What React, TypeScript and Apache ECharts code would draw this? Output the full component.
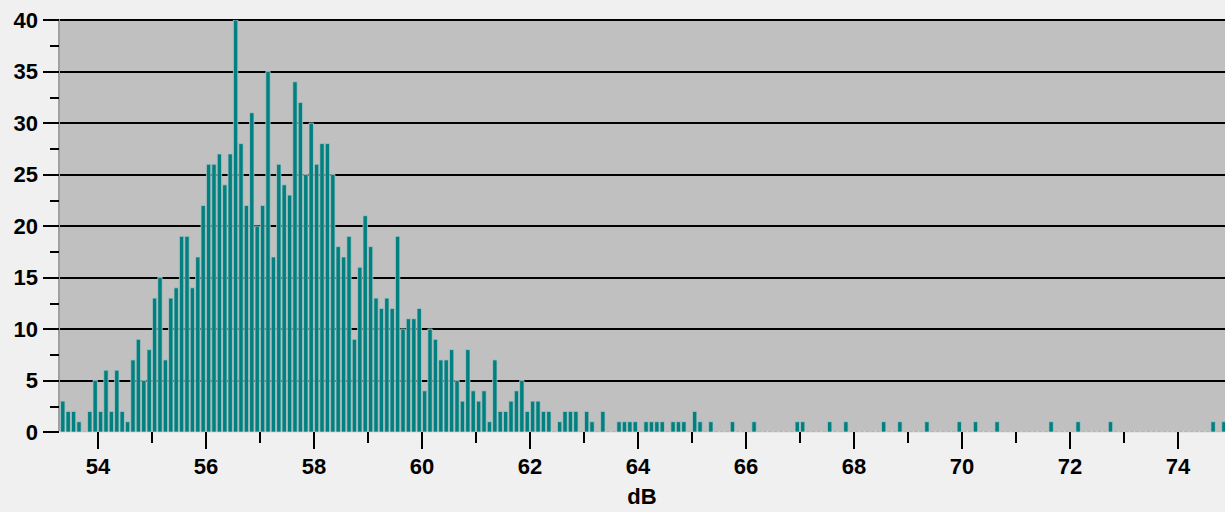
import React, { useEffect, useRef } from "react";
import * as echarts from "echarts";

// Histogram of sound levels, 0.1 dB bins starting at 53.3 dB
const BIN_START = 53.3;
const BIN_WIDTH = 0.1;
const counts: number[] = [
  3, 2, 2, 1, 0, 2, 5, 2, 6, 2, 6, 2, 1, 7, 9, 5, 8, 13, 15, 7,
  13, 14, 19, 19, 14, 17, 22, 26, 26, 27, 24, 27, 40, 28, 22, 31, 20, 22, 35, 17,
  26, 24, 23, 34, 32, 25, 30, 26, 28, 28, 25, 18, 17, 19, 9, 16, 21, 18, 13, 12,
  13, 12, 19, 10, 11, 11, 12, 4, 10, 9, 7, 7, 8, 5, 3, 8, 4, 3, 4, 1,
  7, 2, 2, 3, 4, 5, 2, 3, 3, 2, 2, 0, 1, 2, 2, 2, 0, 2, 1, 0,
  2, 0, 0, 1, 1, 1, 1, 0, 1, 1, 1, 1, 0, 1, 1, 1, 0, 2, 1, 0,
  1, 0, 0, 0, 1, 0, 0, 0, 1, 0, 0, 0, 0, 0, 0, 0, 1, 1, 0, 0,
  0, 0, 1, 0, 0, 1, 0, 0, 0, 0, 0, 0, 1, 0, 0, 1, 0, 0, 0, 0,
  1, 0, 0, 0, 0, 0, 1, 0, 0, 1, 0, 0, 0, 1, 0, 0, 0, 0, 0, 0,
  0, 0, 0, 1, 0, 0, 0, 0, 1, 0, 0, 0, 0, 0, 1, 0, 0, 0, 0, 0,
  0, 0, 0, 0, 0, 0, 0, 0, 0, 0, 0, 0, 0, 1, 0, 1,
];
const xMajorTicks: number[] = [54, 56, 58, 60, 62, 64, 66, 68, 70, 72, 74];
const xMinorTicks: number[] = [55, 57, 59, 61, 63, 65, 67, 69, 71, 73];
const X_MIN = 53.28;
const X_MAX = 74.87;

const FONT = "'Liberation Sans', Arial, sans-serif";
const FONT_SIZE = 22;

export default function App() {
  const ref = useRef<HTMLDivElement>(null);
  useEffect(() => {
    if (!ref.current) return;
    const chart = echarts.init(ref.current, null, { renderer: "svg" });
    const data = counts.map((c, i) => {
      const lo = +(BIN_START + i * BIN_WIDTH).toFixed(2);
      const hi = +(lo + BIN_WIDTH).toFixed(2);
      return [lo, hi, c];
    });
    chart.setOption({
      animation: false,
      backgroundColor: "#f0f0f0",
      grid: {
        left: 59,
        right: 0,
        top: 20,
        bottom: 78,
        show: true,
        backgroundColor: "#c0c0c0",
        borderWidth: 0,
      },
      xAxis: [
        {
          type: "value",
          min: X_MIN,
          max: X_MAX,
          name: "dB",
          nameLocation: "middle",
          nameGap: 53,
          nameTextStyle: { fontSize: FONT_SIZE, fontWeight: "bold", color: "#000", fontFamily: FONT },
          axisLine: { show: true, lineStyle: { color: "#e4e4e4", width: 2 } },
          axisTick: {
            show: true,
            length: 17,
            customValues: xMajorTicks,
            lineStyle: { color: "#000", width: 2 },
          },
          axisLabel: {
            show: true,
            customValues: xMajorTicks,
            fontSize: FONT_SIZE,
            fontWeight: "bold",
            color: "#000",
            fontFamily: FONT,
            margin: 23,
          },
          splitLine: { show: false },
        },
        {
          type: "value",
          min: X_MIN,
          max: X_MAX,
          position: "bottom",
          axisLine: { show: false },
          axisTick: {
            show: true,
            length: 11,
            customValues: xMinorTicks,
            lineStyle: { color: "#000", width: 2 },
          },
          axisLabel: { show: false },
          splitLine: { show: false },
        },
      ],
      yAxis: {
        type: "value",
        min: 0,
        max: 40,
        interval: 5,
        axisLine: { show: true, lineStyle: { color: "#a0a0a0", width: 2 } },
        axisTick: { show: true, length: 16, lineStyle: { color: "#000", width: 2 } },
        minorTick: { show: true, splitNumber: 2, length: 9, lineStyle: { color: "#000", width: 2 } },
        axisLabel: {
          fontSize: FONT_SIZE,
          fontWeight: "bold",
          color: "#000",
          fontFamily: FONT,
          margin: 21,
        },
        splitLine: { show: true, lineStyle: { color: "#000", width: 2 } },
      },
      series: [
        {
          type: "custom",
          xAxisIndex: 0,
          clip: true,
          encode: { x: [0, 1], y: 2 },
          data,
          renderItem: (params: any, api: any) => {
            const lo = api.value(0);
            const hi = api.value(1);
            const v = api.value(2);
            const pTop = api.coord([lo, v]);
            const pBot = api.coord([hi, 0]);
            const w = pBot[0] - pTop[0];
            return {
              type: "rect",
              shape: {
                x: pTop[0] + 0.5,
                y: pTop[1],
                width: w - 1,
                height: pBot[1] - pTop[1],
              },
              style: {
                fill: "#008080",
                stroke: v > 0 ? "#b4c4c4" : "#7fa8a8",
                lineWidth: 0.8,
              },
            };
          },
        },
      ],
    });
    return () => chart.dispose();
  }, []);
  return (
    <div
      ref={ref}
      style={{ position: "fixed", left: 0, top: 0, width: 1225, height: 512, background: "#f0f0f0" }}
    />
  );
}
